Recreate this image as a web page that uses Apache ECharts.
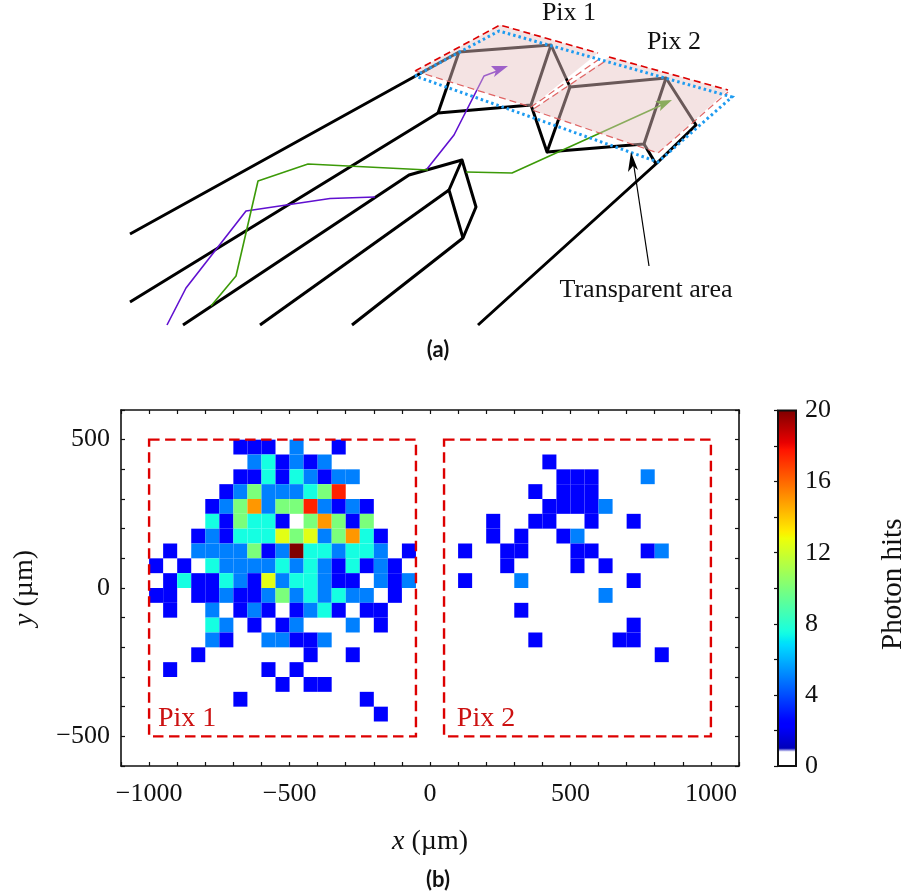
<!DOCTYPE html>
<html>
<head>
<meta charset="utf-8">
<style>html,body{margin:0;padding:0;background:#fff}#c{width:904px;height:896px}</style>
<script src="https://cdn.jsdelivr.net/npm/echarts@6/dist/echarts.min.js"></script>
</head>
<body>
<div id="c"></div>
<script>
// ---- data: photon hits per 50 um x 50 um bin ----
const xBinsPix1 = [-975,-925,-875,-825,-775,-725,-675,-625,-575,-525,-475,-425,-375,-325,-275,-225,-175,-125,-75];
const xBinsPix2 = [75,125,175,225,275,325,375,425,475,525,575,625,675,725,775,825,875,925,975];
const yBins = [475,425,375,325,275,225,175,125,75,25,-25,-75,-125,-175,-225,-275,-325,-375,-425,-475];
const pix1Hits = [
 [0,0,0,0,0,0,2.5,2.5,2.5,0,5,0,0,2.5,0,0,0,0,0],
 [0,0,0,0,0,0,0,5,7.5,2.5,5,2.5,5,0,0,0,0,0,0],
 [0,0,0,0,0,0,2.5,2.5,7.5,2.5,7.5,5,2.5,5,5,0,0,0,0],
 [0,0,0,0,0,2.5,5,10,5,5,5,7.5,10,17.5,0,0,0,0,0],
 [0,0,0,0,2.5,5,10,15,5,10,10,17.5,5,2.5,5,2.5,0,0,0],
 [0,0,0,0,7.5,2.5,10,7.5,7.5,2.5,0,10,15,10,2.5,10,0,0,0],
 [0,0,0,2.5,5,2.5,7.5,7.5,7.5,12.5,10,12.5,5,10,15,7.5,2.5,0,0],
 [0,2.5,0,5,5,5,5,10,2.5,5,20,7.5,7.5,5,7.5,7.5,5,0,2.5],
 [2.5,0,2.5,0,7.5,5,5,5,5,7.5,5,7.5,5,2.5,7.5,2.5,5,2.5,0],
 [0,2.5,7.5,2.5,2.5,7.5,5,2.5,12.5,5,7.5,7.5,5,2.5,2.5,0,5,2.5,5],
 [2.5,2.5,0,2.5,2.5,5,2.5,2.5,5,10,5,7.5,5,7.5,5,5,0,2.5,0],
 [0,2.5,0,0,5,0,2.5,5,2.5,0,2.5,5,7.5,2.5,0,2.5,2.5,0,0],
 [0,0,0,0,7.5,5,0,2.5,0,2.5,5,0,0,0,5,0,2.5,0,0],
 [0,0,0,0,5,2.5,0,0,5,5,2.5,2.5,5,0,0,0,0,0,0],
 [0,0,0,2.5,0,0,0,0,0,0,0,2.5,0,0,2.5,0,0,0,0],
 [0,2.5,0,0,0,0,0,0,2.5,0,2.5,0,0,0,0,0,0,0,0],
 [0,0,0,0,0,0,0,0,0,2.5,0,2.5,2.5,0,0,0,0,0,0],
 [0,0,0,0,0,0,2.5,0,0,0,0,0,0,0,0,2.5,0,0,0],
 [0,0,0,0,0,0,0,0,0,0,0,0,0,0,0,0,2.5,0,0],
 [0,0,0,0,0,0,0,0,0,0,0,0,0,0,0,0,0,0,0]
];
const pix2Hits = [
 [0,0,0,0,0,0,0,0,0,0,0,0,0,0,0,0,0,0,0],
 [0,0,0,0,0,0,0,2.5,0,0,0,0,0,0,0,0,0,0,0],
 [0,0,0,0,0,0,0,0,2.5,2.5,2.5,0,0,0,5,0,0,0,0],
 [0,0,0,0,0,0,2.5,0,2.5,2.5,2.5,0,0,0,0,0,0,0,0],
 [0,0,0,0,0,0,0,2.5,2.5,2.5,2.5,5,0,0,0,0,0,0,0],
 [0,0,0,2.5,0,0,2.5,2.5,0,0,2.5,0,0,2.5,0,0,0,0,0],
 [0,0,0,2.5,0,2.5,0,0,2.5,5,0,0,0,0,0,0,0,0,0],
 [0,2.5,0,0,2.5,2.5,0,0,0,2.5,2.5,0,0,0,2.5,5,0,0,0],
 [0,0,0,0,2.5,0,0,0,0,2.5,0,2.5,0,0,0,0,0,0,0],
 [0,2.5,0,0,0,5,0,0,0,0,0,0,0,2.5,0,0,0,0,0],
 [0,0,0,0,0,0,0,0,0,0,0,5,0,0,0,0,0,0,0],
 [0,0,0,0,0,2.5,0,0,0,0,0,0,0,0,0,0,0,0,0],
 [0,0,0,0,0,0,0,0,0,0,0,0,0,2.5,0,0,0,0,0],
 [0,0,0,0,0,0,2.5,0,0,0,0,0,2.5,2.5,0,0,0,0,0],
 [0,0,0,0,0,0,0,0,0,0,0,0,0,0,0,2.5,0,0,0],
 [0,0,0,0,0,0,0,0,0,0,0,0,0,0,0,0,0,0,0],
 [0,0,0,0,0,0,0,0,0,0,0,0,0,0,0,0,0,0,0],
 [0,0,0,0,0,0,0,0,0,0,0,0,0,0,0,0,0,0,0],
 [0,0,0,0,0,0,0,0,0,0,0,0,0,0,0,0,0,0,0],
 [0,0,0,0,0,0,0,0,0,0,0,0,0,0,0,0,0,0,0]
];
const binSize = 50;
const pix1Box = [[-1000,500],[-50,-500]];
const pix2Box = [[50,500],[1000,-500]];
const xMajorTicks = [-1000,-500,0,500,1000];
const yMajorTicks = [-500,0,500];
const colorbarTicks = [0,4,8,12,16,20];

// ---- schematic drawing of panel (a): illustration only, no chart data ----
const FONT = '"Liberation Serif", serif';
function toCells(xs, rows){
  const out = [];
  rows.forEach((r,i)=>r.forEach((v,j)=>{ if(v>0) out.push([xs[j], yBins[i], v]); }));
  return out;
}
function interp(t, pts){
  for(let i=1;i<pts.length;i++){
    if(t<=pts[i][0]){
      const a=pts[i-1],b=pts[i];
      return a[1]+(b[1]-a[1])*(t-a[0])/(b[0]-a[0]);
    }
  }
  return pts[pts.length-1][1];
}
function jet(t){
  const r=interp(t,[[0,0],[.35,0],[.66,1],[.89,1],[1,.5]]);
  const g=interp(t,[[0,0],[.125,0],[.375,1],[.64,1],[.91,0],[1,0]]);
  const b=interp(t,[[0,.5],[.11,1],[.34,1],[.65,0],[1,0]]);
  return 'rgb('+[r,g,b].map(v=>Math.round(v*255)).join(',')+')';
}
const cmap=[];
for(let i=0;i<=200;i++){ cmap.push(i<9?'#ffffff':jet(i/200)); }

function renderCell(params, api){
  const x=api.value(0), y=api.value(1), h=binSize/2;
  const a=api.coord([x-h,y+h]), b=api.coord([x+h,y-h]);
  return {type:'rect',shape:{x:a[0],y:a[1],width:b[0]-a[0],height:b[1]-a[1]},
    style:{fill:api.visual('color')}};
}
function boxArea(box,label,dx){
  return {silent:true,z:5,
    itemStyle:{color:'rgba(0,0,0,0)',borderColor:'#dd0000',borderWidth:2.4,borderType:[10.5,5.5]},
    label:{show:true,position:'insideBottomLeft',distance:0,offset:[dx,-5],formatter:label,color:'#cc1111',fontFamily:FONT,fontSize:28},
    data:[[{coord:box[0]},{coord:box[1]}]]};
}
function poly(points,stroke,w,extra){
  return {type:'polyline',silent:true,shape:{points},style:Object.assign({stroke,lineWidth:w,fill:null,lineJoin:'round'},extra||{})};
}
function shape(points,fill){
  return {type:'polygon',silent:true,shape:{points},style:{fill}};
}
function txt(x,y,text,size,extra){
  return {type:'text',silent:true,x,y,style:Object.assign({text,fill:'#111',font:size+'px '+FONT,align:'center',verticalAlign:'middle'},extra||{})};
}
const BLK='#000', PUR='#6010d0', GRN='#3c9a08';
const graphic=[
  // light guides
  poly([[130,234],[459,52],[551,45],[570,87],[666,78],[696,125],[657,163],[478,325]],BLK,3),
  poly([[130,302],[438,113],[531,105],[551,45]],BLK,3),
  poly([[459,52],[438,113]],BLK,3),
  poly([[531,105],[547,152],[570,87]],BLK,3),
  poly([[547,152],[644,144],[666,78]],BLK,3),
  poly([[644,144],[656,164]],BLK,3),
  poly([[183,325],[409,175],[462,160],[476,207],[463,238],[352,325]],BLK,3),
  poly([[462,160],[449,190],[463,238]],BLK,3),
  poly([[449,190],[260,325]],BLK,3),
  // photon tracks
  poly([[167,325],[186,288],[246,211],[330,198.5],[375,197]],PUR,1.6),
  poly([[427,169],[454,135],[484,76],[500,70]],PUR,1.6),
  shape([[508,66],[491,66],[496,71],[494,77]],PUR),
  poly([[211,306],[236,276],[258,181],[308,164],[428,170]],GRN,1.6),
  poly([[466,172],[512,173],[664,104]],GRN,1.6),
  shape([[672,100],[655,101],[661,105],[660,111]],GRN),
  // pixel planes
  shape([[415,71],[500,25],[598,53],[531,107]],'rgba(230,195,195,0.46)'),
  shape([[609,57],[728,90],[658,153],[532,110]],'rgba(230,195,195,0.46)'),
  poly([[415,71],[500,25],[598,53]],'#dd0000',1.6,{lineDash:[7,4]}),
  poly([[609,57],[728,90]],'#dd0000',1.6,{lineDash:[7,4]}),
  poly([[415,71],[531,107],[598,60]],'#e06464',1.2,{lineDash:[7,4]}),
  poly([[604,62],[532,110],[658,153],[728,92]],'#e06464',1.2,{lineDash:[7,4]}),
  poly([[415,76],[499,31],[732,97],[658,162],[415,76]],'#1e9bf0',3,{lineDash:[2.5,3],lineJoin:'miter'}),
  // annotation
  poly([[649,266],[633,160]],BLK,1.2),
  shape([[631,152],[628,172],[633,166],[638,170]],BLK),
  txt(569,13,'Pix 1',26),
  txt(674,42,'Pix 2',26),
  txt(646,290,'Transparent area',26),
  txt(438,350,'(a)',22,{font:'bold 22px Lato, sans-serif'}),
  txt(438,880,'(b)',22,{font:'bold 22px Lato, sans-serif'})
];

const axisLine={show:true,onZero:false,lineStyle:{color:'#111',width:1.6}};
const tickStyle={show:true,inside:true,length:4,lineStyle:{color:'#111',width:1.2}};
const numLabel=(major,margin)=>({show:true,color:'#111',fontFamily:FONT,fontSize:26,margin,showMinLabel:true,showMaxLabel:true,
  formatter:v=>major.includes(v)?String(v).replace('-','\u2212'):''});
const option={
  animation:false,
  backgroundColor:'#fff',
  grid:[
    {left:121,top:410,width:618,height:356,show:false,z:10,outerBoundsMode:'none'},
    {left:778,top:410.5,width:18,height:355.5,show:true,borderColor:'#111',borderWidth:2,backgroundColor:'transparent',z:10,outerBoundsMode:'none'}
  ],
  xAxis:[
    {type:'value',gridIndex:0,position:'bottom',min:-1100,max:1100,interval:100,splitLine:{show:false},
     axisLine,axisTick:tickStyle,axisLabel:numLabel(xMajorTicks,15),
     name:'{i|x} (\u00b5m)',nameLocation:'middle',nameGap:62,
     nameTextStyle:{color:'#111',fontFamily:FONT,fontSize:28,rich:{i:{fontStyle:'italic',fontFamily:FONT,fontSize:28,color:'#111'}}}},
    {type:'value',gridIndex:0,position:'top',min:-1100,max:1100,interval:100,splitLine:{show:false},
     axisLine,axisTick:tickStyle,axisLabel:{show:false}},
    {type:'value',gridIndex:1,min:0,max:1,show:false}
  ],
  yAxis:[
    {type:'value',gridIndex:0,position:'left',min:-600,max:600,interval:100,splitLine:{show:false},
     axisLine,axisTick:tickStyle,axisLabel:numLabel(yMajorTicks,11),
     name:'{i|y} (\u00b5m)',nameLocation:'middle',nameGap:82,nameRotate:90,
     nameTextStyle:{color:'#111',fontFamily:FONT,fontSize:28,rich:{i:{fontStyle:'italic',fontFamily:FONT,fontSize:28,color:'#111'}}}},
    {type:'value',gridIndex:0,position:'right',min:-600,max:600,interval:100,splitLine:{show:false},
     axisLine,axisTick:tickStyle,axisLabel:{show:false}},
    {type:'value',gridIndex:1,position:'right',min:0,max:20,interval:2,splitLine:{show:false},z:10,
     axisLine:{show:false},axisTick:{show:true,inside:true,length:4,lineStyle:{color:'#111',width:1.2}},
     axisLabel:{show:true,color:'#111',fontFamily:FONT,fontSize:26,margin:9,padding:[0,0,8,0],showMinLabel:true,showMaxLabel:true,
       formatter:v=>colorbarTicks.includes(v)?String(v):''},
     name:'Photon hits',nameLocation:'middle',nameGap:83,nameRotate:90,
     nameTextStyle:{color:'#111',fontFamily:FONT,fontSize:29,padding:[0,0,0,8]}}
  ],
  visualMap:{type:'continuous',min:0,max:20,dimension:2,seriesIndex:[0,1],calculable:false,realtime:false,hoverLink:false,
    left:778,top:410.5,itemWidth:18,itemHeight:355.5,padding:0,text:null,showLabel:false,
    textStyle:{color:'transparent',fontSize:1},
    inRange:{color:cmap}},
  series:[
    {name:'Pix 1',type:'custom',xAxisIndex:0,yAxisIndex:0,clip:false,silent:true,renderItem:renderCell,
     encode:{x:0,y:1},data:toCells(xBinsPix1,pix1Hits),markArea:boxArea(pix1Box,'Pix 1',10)},
    {name:'Pix 2',type:'custom',xAxisIndex:0,yAxisIndex:0,clip:false,silent:true,renderItem:renderCell,
     encode:{x:0,y:1},data:toCells(xBinsPix2,pix2Hits),markArea:boxArea(pix2Box,'Pix 2',14)}
  ],
  graphic:{elements:graphic}
};
echarts.init(document.getElementById('c'),null,{renderer:'canvas'}).setOption(option);
</script>
</body>
</html>
